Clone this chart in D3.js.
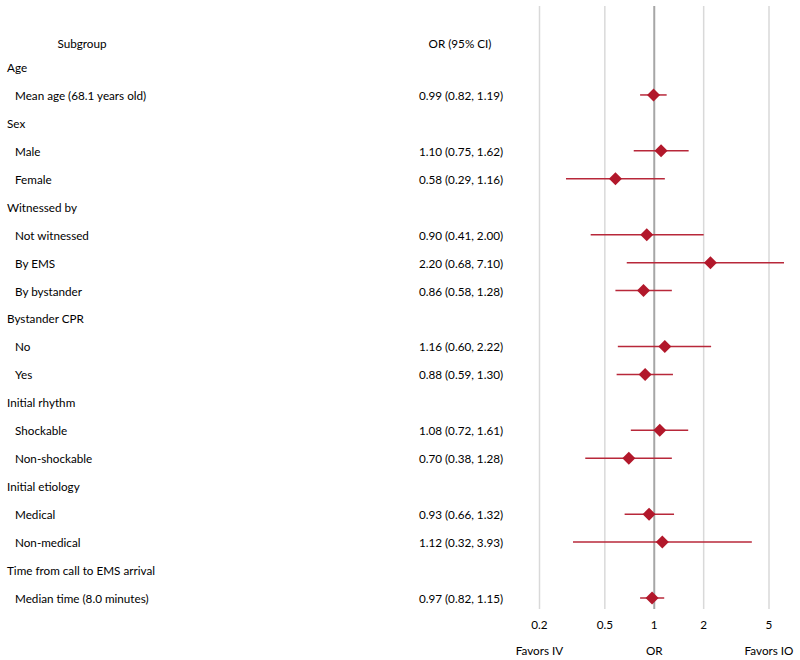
<!DOCTYPE html>
<html lang="en">
  <head>
    <meta charset="UTF-8" />
    <title>Subgroup forest plot</title>
    <script src="https://cdn.jsdelivr.net/npm/d3@7"></script>
    <style>
      html,
      body {
        margin: 0;
        background: #fff;
      }
      svg text {
        font-family: "Lato", "Open Sans", sans-serif;
        font-size: 11.7px;
        fill: #000;
      }
    </style>
  </head>
  <body>
    <svg id="chart" width="800" height="660"></svg>
    <script>
      // rows from top to bottom; header rows have no estimate
      const labels = [
        "Age", "Mean age (68.1 years old)",
        "Sex", "Male", "Female",
        "Witnessed by", "Not witnessed", "By EMS", "By bystander",
        "Bystander CPR", "No", "Yes",
        "Initial rhythm", "Shockable", "Non-shockable",
        "Initial etiology", "Medical", "Non-medical",
        "Time from call to EMS arrival", "Median time (8.0 minutes)",
      ];
      const isHeader = [
        true, false,
        true, false, false,
        true, false, false, false,
        true, false, false,
        true, false, false,
        true, false, false,
        true, false,
      ];
      const orValues = [
        null, 0.99,
        null, 1.10, 0.58,
        null, 0.90, 2.20, 0.86,
        null, 1.16, 0.88,
        null, 1.08, 0.70,
        null, 0.93, 1.12,
        null, 0.97,
      ];
      const lowerCI = [
        null, 0.82,
        null, 0.75, 0.29,
        null, 0.41, 0.68, 0.58,
        null, 0.60, 0.59,
        null, 0.72, 0.38,
        null, 0.66, 0.32,
        null, 0.82,
      ];
      const upperCI = [
        null, 1.19,
        null, 1.62, 1.16,
        null, 2.00, 7.10, 1.28,
        null, 2.22, 1.30,
        null, 1.61, 1.28,
        null, 1.32, 3.93,
        null, 1.15,
      ];
      const ticks = [0.2, 0.5, 1, 2, 5];

      const svg = d3.select("#chart");
      const fmt = d3.format(".2f");
      const dy = 2; // nudge text down to sit on the row centre

      // log scale for OR, clipped at the right edge of the panel
      const x = d3.scaleLog().domain([0.2, 5]).range([539.5, 769]);
      const xMax = 784;
      const y = d3
        .scalePoint()
        .domain(d3.range(labels.length))
        .range([67, 598]);

      // column headers
      svg.append("text").attr("x", 82).attr("y", 43 + dy)
        .attr("text-anchor", "middle").attr("dominant-baseline", "middle")
        .text("Subgroup");
      svg.append("text").attr("x", 460).attr("y", 43 + dy)
        .attr("text-anchor", "middle").attr("dominant-baseline", "middle")
        .text("OR (95% CI)");

      // grid
      svg.append("g")
        .selectAll("line")
        .data(ticks.filter((t) => t !== 1))
        .join("line")
        .attr("x1", (d) => x(d)).attr("x2", (d) => x(d))
        .attr("y1", 6).attr("y2", 609)
        .attr("stroke", "#d9d9d9").attr("stroke-width", 1.5);
      svg.append("line")
        .attr("x1", x(1)).attr("x2", x(1))
        .attr("y1", 6).attr("y2", 609)
        .attr("stroke", "#a6a6a6").attr("stroke-width", 2);

      // tick labels
      svg.append("g")
        .selectAll("text")
        .data(ticks)
        .join("text")
        .attr("x", (d) => x(d)).attr("y", 624 + dy)
        .attr("text-anchor", "middle").attr("dominant-baseline", "middle")
        .text((d) => d);

      const bottom = [
        [0.2, "Favors IV"],
        [1, "OR"],
        [5, "Favors IO"],
      ];
      svg.append("g")
        .selectAll("text")
        .data(bottom)
        .join("text")
        .attr("x", (d) => x(d[0])).attr("y", 650 + dy)
        .attr("text-anchor", "middle").attr("dominant-baseline", "middle")
        .text((d) => d[1]);

      const rows = d3.range(labels.length);

      // row labels
      svg.append("g")
        .selectAll("text")
        .data(rows)
        .join("text")
        .attr("x", (i) => (isHeader[i] ? 7 : 15))
        .attr("y", (i) => y(i) + dy)
        .attr("dominant-baseline", "middle")
        .text((i) => labels[i]);

      const est = rows.filter((i) => orValues[i] != null);

      // OR (95% CI) text
      svg.append("g")
        .selectAll("text")
        .data(est)
        .join("text")
        .attr("x", 461).attr("y", (i) => y(i) + dy)
        .attr("text-anchor", "middle").attr("dominant-baseline", "middle")
        .text((i) => `${fmt(orValues[i])} (${fmt(lowerCI[i])}, ${fmt(upperCI[i])})`);

      // CI lines
      svg.append("g")
        .selectAll("line")
        .data(est)
        .join("line")
        .attr("x1", (i) => x(lowerCI[i]))
        .attr("x2", (i) => Math.min(x(upperCI[i]), xMax))
        .attr("y1", (i) => y(i)).attr("y2", (i) => y(i))
        .attr("stroke", "#b8283a").attr("stroke-width", 1.5);

      // diamonds
      svg.append("g")
        .selectAll("path")
        .data(est)
        .join("path")
        .attr("transform", (i) => `translate(${x(orValues[i])},${y(i)})`)
        .attr("d", "M0,-6.5L6.5,0L0,6.5L-6.5,0Z")
        .attr("fill", "#b2182b");
    </script>
  </body>
</html>
